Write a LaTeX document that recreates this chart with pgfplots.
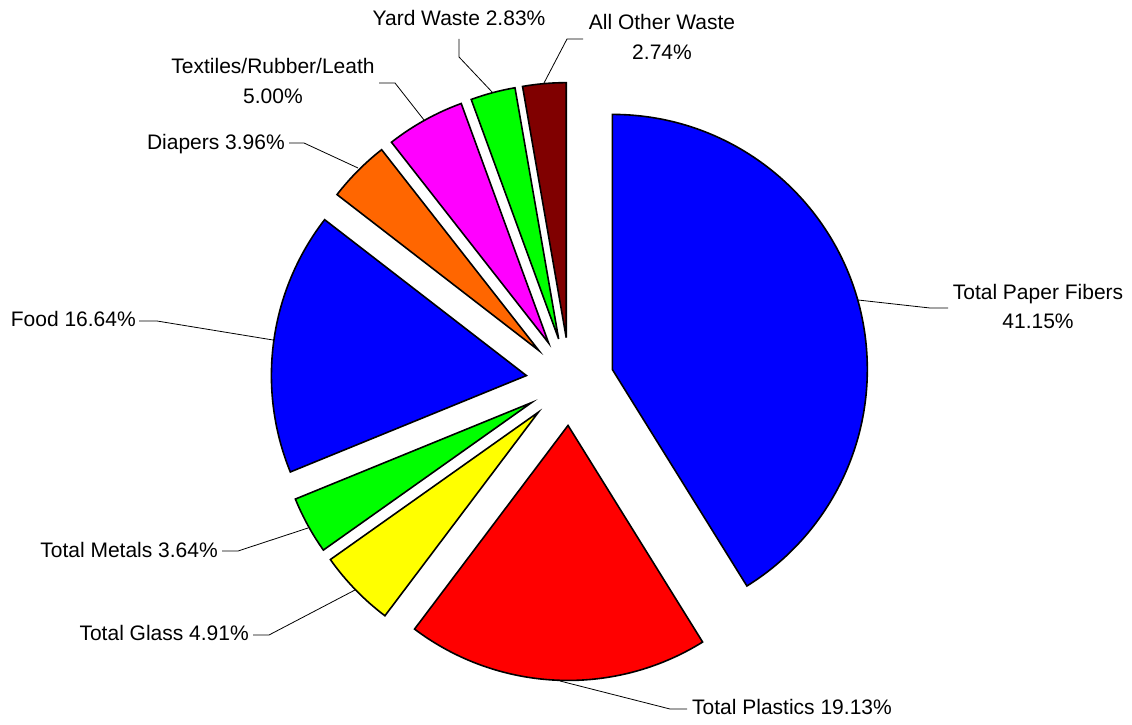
\documentclass[border=0pt]{standalone}
\usepackage{pgfplots}
\pgfplotsset{compat=1.18}
\usepackage{pgfplotstable}
\usepackage{fontspec}
\setmainfont{Liberation Sans}
\definecolor{cPaper}{RGB}{0,0,255}
\definecolor{cPlastics}{RGB}{255,0,0}
\definecolor{cGlass}{RGB}{255,255,0}
\definecolor{cMetals}{RGB}{0,255,0}
\definecolor{cFood}{RGB}{0,0,255}
\definecolor{cDiapers}{RGB}{255,102,0}
\definecolor{cTextiles}{RGB}{255,0,255}
\definecolor{cYard}{RGB}{0,255,0}
\definecolor{cOther}{RGB}{128,0,0}

\pgfplotstableread{
name      pct    col
Paper     41.15  cPaper
Plastics  19.13  cPlastics
Glass     4.91   cGlass
Metals    3.64   cMetals
Food      16.64  cFood
Diapers   3.96   cDiapers
Textiles  5.00   cTextiles
Yard      2.83   cYard
Other     2.74   cOther
}\piedata

\begin{document}
\begin{tikzpicture}
\begin{axis}[
  width=1132pt, height=724pt, scale only axis,
  xmin=0, xmax=1132, ymin=0, ymax=724,
  hide axis, clip=false,
]
% frame for bounding box (invisible)
\path (rel axis cs:0,0) rectangle (rel axis cs:1,1);
% leader lines
\addplot[black, line width=0.8pt] coordinates {(459,685) (459,667) (493,631)};
\addplot[black, line width=0.8pt] coordinates {(583,685) (567,685) (544,641)};
\addplot[black, line width=0.8pt] coordinates {(379,641) (395,641) (424,604)};
\addplot[black, line width=0.8pt] coordinates {(289,581) (304,581) (358,556)};
\addplot[black, line width=0.8pt] coordinates {(139,403) (157,403) (273,384)};
\addplot[black, line width=0.8pt] coordinates {(948,416) (930,416) (858,424)};
\addplot[black, line width=0.8pt] coordinates {(222,173) (238,173) (308,196)};
\addplot[black, line width=0.8pt] coordinates {(253,89) (269,89) (355,134)};
\addplot[black, line width=0.8pt] coordinates {(687,15) (670,15) (560,43)};

% slices
\pgfplotstablegetrowsof{\piedata}
\pgfmathtruncatemacro\N{\pgfplotsretval-1}
\def\cum{0}
\pgfplotsforeachungrouped \i in {0,...,\N}{
  \pgfplotstablegetelem{\i}{pct}\of{\piedata}\let\p\pgfplotsretval
  \pgfplotstablegetelem{\i}{col}\of{\piedata}\let\c\pgfplotsretval
  \pgfmathsetmacro\aA{90-3.6*\cum}
  \pgfmathsetmacro\aB{90-3.6*(\cum+\p)}
  \pgfmathsetmacro\am{(\aA+\aB)/2}
  \pgfmathsetmacro\vx{570+44*cos(\am)}
  \pgfmathsetmacro\vy{342.5+44*sin(\am)}
  \pgfmathsetmacro\sx{\vx+255*cos(\aA)}
  \pgfmathsetmacro\sy{\vy+255*sin(\aA)}
  \edef\temp{\noexpand\draw[line width=1.6pt, fill=\c, line join=miter]
    (axis cs:\vx,\vy) -- (axis cs:\sx,\sy)
    arc[start angle=\aA, end angle=\aB, radius=255pt] -- cycle;}
  \temp
  \pgfmathsetmacro\cum{\cum+\p}
}

% labels
\tikzset{lab/.style={inner sep=0pt, font=\fontsize{21}{25}\selectfont}}
\node[lab, anchor=base] at (axis cs:459,698.5) {Yard Waste 2.83\%};
\node[lab, anchor=base] at (axis cs:662,694.5) {All Other Waste};
\node[lab, anchor=base] at (axis cs:662,664.5) {2.74\%};
\node[lab, anchor=base] at (axis cs:273,650.5) {Textiles/Rubber/Leath};
\node[lab, anchor=base] at (axis cs:273,620.5) {5.00\%};
\node[lab, anchor=base east] at (axis cs:285,574.5) {Diapers 3.96\%};
\node[lab, anchor=base east] at (axis cs:136,398) {Food 16.64\%};
\node[lab, anchor=base] at (axis cs:1038,424.5) {Total Paper Fibers};
\node[lab, anchor=base] at (axis cs:1038,395.5) {41.15\%};
\node[lab, anchor=base east] at (axis cs:218,166.5) {Total Metals 3.64\%};
\node[lab, anchor=base east] at (axis cs:249,83.5) {Total Glass 4.91\%};
\node[lab, anchor=base west] at (axis cs:692,9.5) {Total Plastics 19.13\%};
\end{axis}
\end{tikzpicture}
\end{document}
